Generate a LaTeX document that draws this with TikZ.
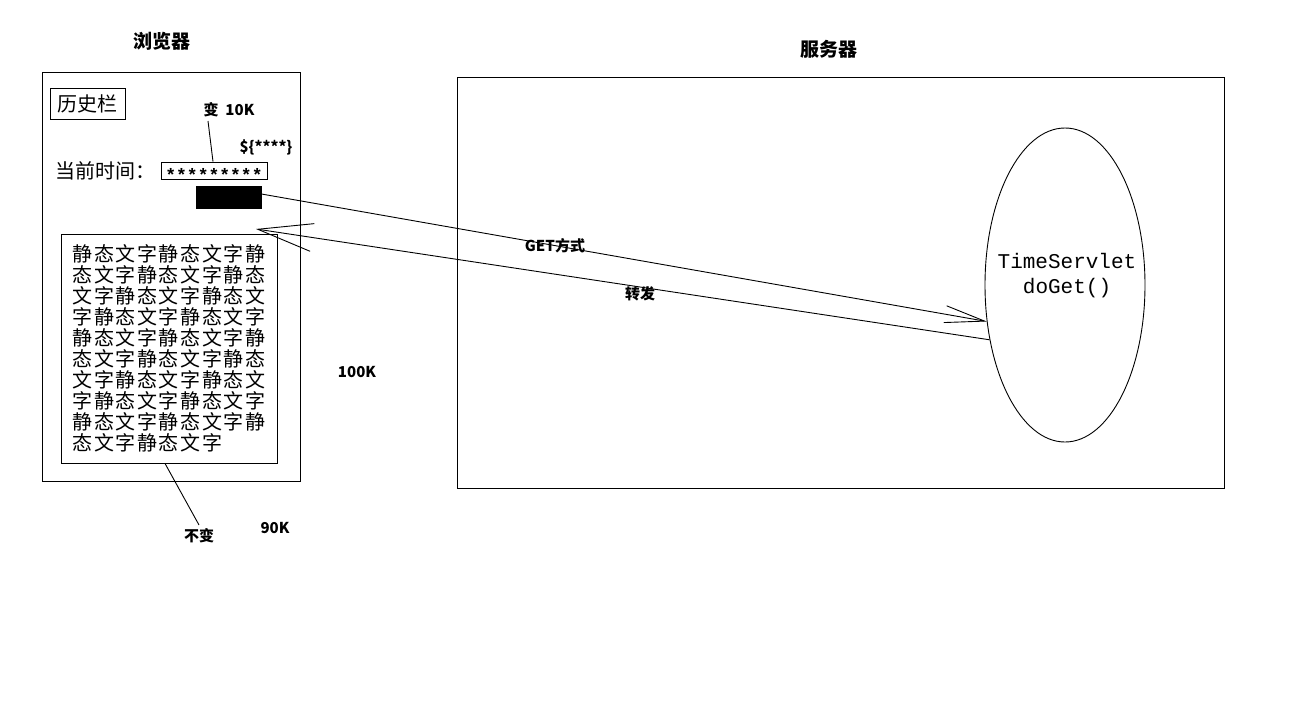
\documentclass[tikz,border=0pt]{standalone}
\usepackage{fontspec}
\setmainfont{Noto Sans CJK SC}
\setmonofont{Liberation Mono}
\newfontfamily\statfont{Noto Sans CJK SC}[LetterSpace=8]
\usetikzlibrary{shapes}
\usetikzlibrary{positioning}
\usetikzlibrary{arrows.meta}

\begin{document}
\begin{tikzpicture}[
    x=1pt, y=-1pt,
    line width=0.9pt
]
\tikzset{
    framebox/.style = {draw=black, rectangle, inner sep=0pt},
    title/.style = {font=\bfseries\fontsize{19}{19}\selectfont},
    note/.style = {font=\bfseries\fontsize{15}{15}\selectfont},
    plain/.style = {font=\fontsize{20}{20}\selectfont},
    edgen/.style = {-{Straight Barb[length=40pt,width=17pt]}},
    edgeb/.style = {-{Straight Barb[length=55pt,width=28pt]}}
}
\useasboundingbox (0,0) rectangle (1304,720);

% browser side
\node[framebox, minimum width=258pt, minimum height=409pt] at (171,276.5) (browser) {};
\node[title] at (162,41) (browsertitle) {浏览器};
\node[framebox, plain, inner sep=3pt, minimum width=75pt, minimum height=31pt] at (87.5,103.5) (history) {历史栏};
\node[framebox, minimum width=106pt, minimum height=17pt, text height=10pt, text depth=0pt,
      font=\ttfamily\bfseries\fontsize{18}{18}\selectfont] at (214,170.5) (stars) {\raisebox{-6pt}{*********}};
\node[plain, left=1pt of stars] (timelabel) {当前时间：};
\node[framebox, fill=black, minimum width=65pt, minimum height=22pt] at (228.5,197) (btn) {};
\node[note] at (229,110) (change) {变\ \ 10K};
\node[note] at (266,147) (el) {\$\{****\}};
\node[framebox, minimum width=216pt, minimum height=229pt, align=left,
      font=\statfont\fontsize{20}{21}\selectfont] at (169,348.5) (static) {%
静态文字静态文字静\\
态文字静态文字静态\\
文字静态文字静态文\\
字静态文字静态文字\\
静态文字静态文字静\\
态文字静态文字静态\\
文字静态文字静态文\\
字静态文字静态文字\\
静态文字静态文字静\\
态文字静态文字\hphantom{静态}};
\node[note] at (199,536) (same) {不变};
\node[note] at (275,528) (size90) {90K};
\node[note] at (357,372) (size100) {100K};
\coordinate (back) at (256,229);

% server side
\node[framebox, minimum width=767pt, minimum height=411pt] at (840.5,282.5) (server) {};
\node[title] at (829,49) (servertitle) {服务器};
\node[draw=black, ellipse, minimum width=160pt, minimum height=314pt] at (1065,285) (servlet) {};
\node[align=center, font=\ttfamily\fontsize{21}{25}\selectfont] at (1067,276) (servletname) {TimeServlet\\doGet()};
\node[note] at (555,246) (get) {GET方式};
\node[note] at (640,294) (forward) {转发};

\draw ([xshift=-21pt]change.south) -- ([xshift=-1pt]stars.north);
\draw (same.north) -- ([xshift=-4pt]static.south);
\draw[edgen] ([yshift=3pt]btn.east) -- (servlet.205);
\draw[edgeb] (servlet.216) -- (back);
\end{tikzpicture}
\end{document}
